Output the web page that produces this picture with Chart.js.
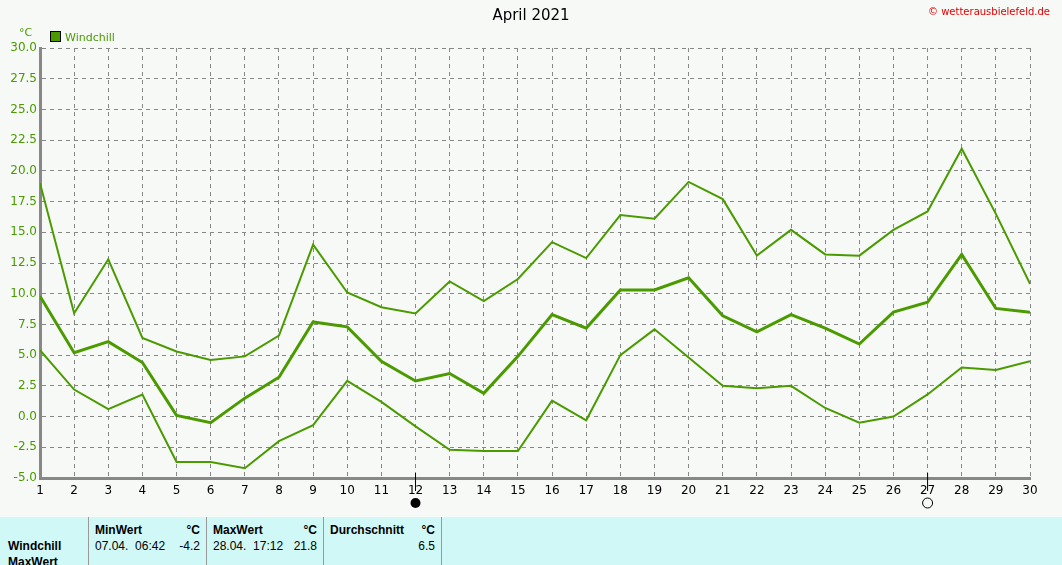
<!DOCTYPE html>
<html><head><meta charset="utf-8">
<script src="https://cdn.jsdelivr.net/npm/chart.js@4"></script>
<style>
body{margin:0;background:#f7f9f7;font-family:"DejaVu Sans",sans-serif;width:1062px;height:565px;overflow:hidden;position:relative}
#c{position:absolute;left:0;top:0}
#title{position:absolute;left:0;width:1062px;top:6px;text-align:center;font-size:15px;color:#000}
#copy{position:absolute;right:12px;top:6px;font-size:10px;color:#e00000}
#unit{position:absolute;left:19px;top:26px;font-size:11px;color:#4a9a00}
#leg{position:absolute;left:50px;top:31px;font-size:11px;color:#4a9a00}
#leg span{display:inline-block;width:9px;height:9px;background:#4a9a00;border:1px solid #000;vertical-align:-1px;margin-right:4px}
#tbl{position:absolute;left:0;top:517px;width:1062px;height:48px;background:#cff8f6;font-size:12px;font-family:"Liberation Sans",Arial,sans-serif}
.cell{position:absolute;top:0;height:48px;border-right:1px solid #999}
.b{font-weight:bold}
.t{position:absolute}
.r{position:absolute;text-align:right;width:40px}
</style></head><body>
<canvas id="c" width="1062" height="515"></canvas>
<div id="title">April 2021</div>
<div id="copy">© wetterausbielefeld.de</div>
<div id="unit">°C</div>
<div id="leg"><span></span>Windchill</div>
<div id="tbl">
 <div class="cell" style="left:0;width:88px"></div>
 <div class="cell" style="left:89px;width:117px"></div>
 <div class="cell" style="left:207px;width:116px"></div>
 <div class="cell" style="left:324px;width:117px"></div>
 <div class="t b" style="left:8px;top:22px">Windchill</div>
 <div class="t b" style="left:8px;top:38px">MaxWert</div>
 <div class="t b" style="left:95px;top:6px">MinWert</div>
 <div class="r b" style="left:160px;top:6px">°C</div>
 <div class="t" style="left:95px;top:22px">07.04.&nbsp; 06:42</div>
 <div class="r" style="left:160px;top:22px">-4.2</div>
 <div class="t b" style="left:213px;top:6px">MaxWert</div>
 <div class="r b" style="left:277px;top:6px">°C</div>
 <div class="t" style="left:213px;top:22px">28.04.&nbsp; 17:12</div>
 <div class="r" style="left:277px;top:22px">21.8</div>
 <div class="t b" style="left:330px;top:6px">Durchschnitt</div>
 <div class="r b" style="left:395px;top:6px">°C</div>
 <div class="r" style="left:395px;top:22px">6.5</div>
</div>
<script>
const days=[1,2,3,4,5,6,7,8,9,10,11,12,13,14,15,16,17,18,19,20,21,22,23,24,25,26,27,28,29,30];
const maxVals=[19.0,8.4,12.8,6.4,5.3,4.6,4.9,6.6,14.0,10.1,8.9,8.4,11.0,9.4,11.2,14.2,12.9,16.4,16.1,19.1,17.7,13.1,15.2,13.2,13.1,15.2,16.7,21.8,16.5,10.8];
const meanVals=[9.8,5.2,6.1,4.4,0.1,-0.5,1.5,3.2,7.7,7.3,4.5,2.9,3.5,1.9,4.9,8.3,7.2,10.3,10.3,11.3,8.2,6.9,8.3,7.2,5.9,8.5,9.3,13.2,8.8,8.5];
const minVals=[5.4,2.2,0.6,1.8,-3.7,-3.7,-4.2,-2.0,-0.7,2.9,1.2,-0.8,-2.7,-2.8,-2.8,1.3,-0.3,5.0,7.1,4.8,2.5,2.3,2.5,0.7,-0.5,0.0,1.8,4.0,3.8,4.5];
const moonDays=[12,27];
const G='#4a9a00';
const mk=(v,w)=>({data:days.map((d,i)=>({x:d,y:v[i]})),borderColor:G,borderWidth:w,pointRadius:0,tension:0});
const moon={id:'moon',afterDraw(ch){const c=ch.ctx,x=ch.scales.x,b=ch.chartArea.bottom;
 moonDays.forEach((d,i)=>{const px=x.getPixelForValue(d);c.strokeStyle='#000';c.lineWidth=1;c.beginPath();c.moveTo(px,b-5);c.lineTo(px,b+13);c.stroke();
 c.beginPath();c.arc(px,b+25,5,0,Math.PI*2);if(i==0){c.fillStyle='#000';c.fill();}else{c.stroke();}});}};
new Chart(document.getElementById('c'),{type:'line',
 data:{datasets:[mk(maxVals,2),mk(meanVals,3),mk(minVals,2)]},
 options:{responsive:false,animation:false,layout:{padding:{top:48,right:32,left:0,bottom:0}},
  plugins:{legend:{display:false},tooltip:{enabled:false}},
  scales:{
   x:{type:'linear',min:1,max:30,
      grid:{color:'#888',tickLength:0,lineWidth:1},border:{color:'#888',width:3,dash:[4,4]},
      ticks:{stepSize:1,color:'#000',font:{family:'DejaVu Sans',size:12},padding:6},
      afterFit(s){s.height=37;}},
   y:{min:-5,max:30,grid:{color:'#888',tickLength:0},border:{color:'#888',width:3,dash:[4,4]},
      ticks:{stepSize:2.5,color:G,font:{family:'DejaVu Sans',size:12},padding:3,callback:v=>v.toFixed(1)},
      afterFit(s){s.width=40;}}
  }},plugins:[moon]});
</script></body></html>
